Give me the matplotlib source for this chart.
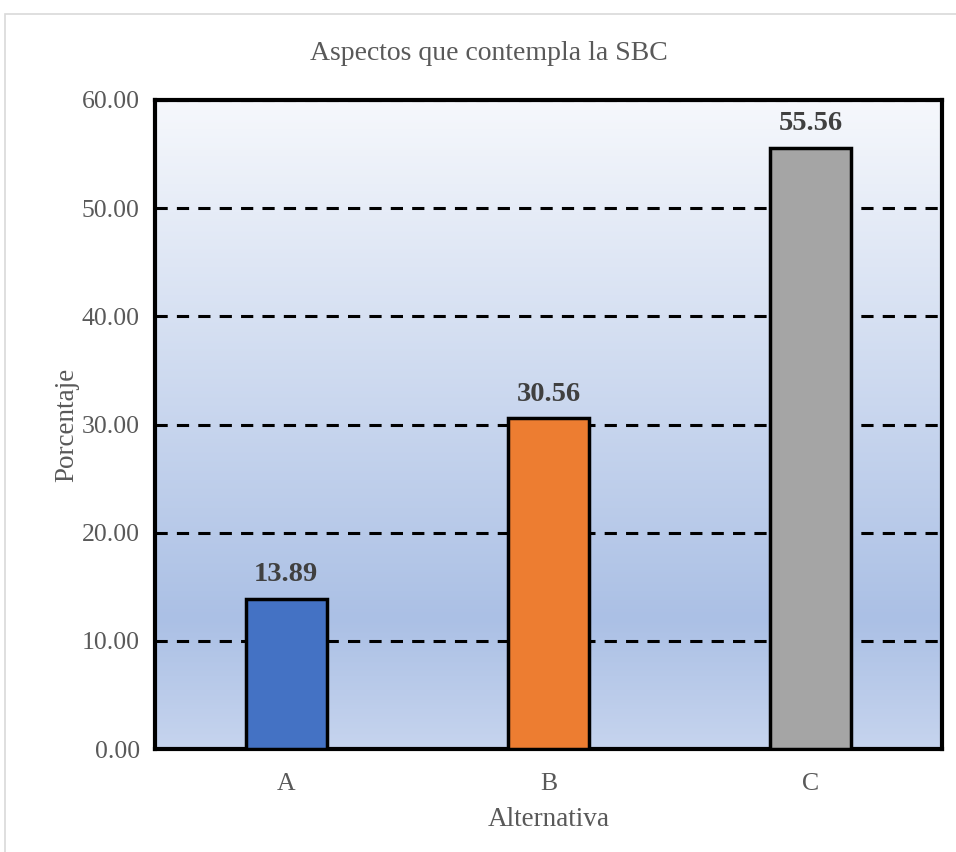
import numpy as np
import matplotlib.pyplot as plt
from matplotlib.colors import LinearSegmentedColormap
from matplotlib.patches import Rectangle

categories = ['A', 'B', 'C']
values = [13.89, 30.56, 55.56]
bar_colors = ['#4472c4', '#ed7d31', '#a5a5a5']
yticks = [0, 10, 20, 30, 40, 50, 60]

plt.rcParams['font.family'] = ['Liberation Serif', 'DejaVu Serif']

fig = plt.figure(figsize=(9.56, 8.52), dpi=100)
fig.patches.append(Rectangle((5/956, -0.01), 1.0, 1 - 14/852 + 0.01, transform=fig.transFigure,
                             fill=False, edgecolor='#d9d9d9', linewidth=1.2))
ax = fig.add_axes([155/956, 1 - 749/852, 787/956, 649/852])

# gradient background
grad = LinearSegmentedColormap.from_list('bg', [(0, '#c6d4ee'), (0.2, '#abc0e5'), (1, '#f6f8fc')])
ax.imshow(np.linspace(0, 1, 256).reshape(-1, 1), cmap=grad, origin='lower', aspect='auto',
          extent=[-0.5, 2.5, 0, 60], zorder=0)

x = np.arange(len(categories))
ax.bar(x, values, width=0.31, color=bar_colors, edgecolor='black', linewidth=2.5, zorder=3)
for xi, v in zip(x, values):
    ax.text(xi, v + 1.1, f'{v:.2f}', ha='center', va='bottom', fontsize=20.5,
            fontweight='bold', color='#404040', zorder=4)

ax.set_xlim(-0.5, 2.5)
ax.set_ylim(0, 60)
ax.set_yticks(yticks)
ax.set_yticklabels([f'{t:.2f}' for t in yticks])
ax.set_xticks(x)
ax.set_xticklabels(categories)
ax.tick_params(length=0, labelsize=18.5, labelcolor='#595959', pad=11)
ax.tick_params(axis='x', pad=17)
ax.yaxis.grid(True, color='black', linestyle=(0, (4, 3)), linewidth=2.2, zorder=1)
ax.set_axisbelow(True)
for s in ax.spines.values():
    s.set_linewidth(3)
    s.set_color('black')

fig.text(489/956, 1 - 54/852, 'Aspectos que contempla la SBC', fontsize=20, color='#595959',
         ha='center', va='center')
ax.set_xlabel('Alternativa', fontsize=19.5, color='#595959', labelpad=9)
ax.set_ylabel('Porcentaje', fontsize=19.5, color='#595959', labelpad=2)

fig.savefig('out.png', dpi=100)
